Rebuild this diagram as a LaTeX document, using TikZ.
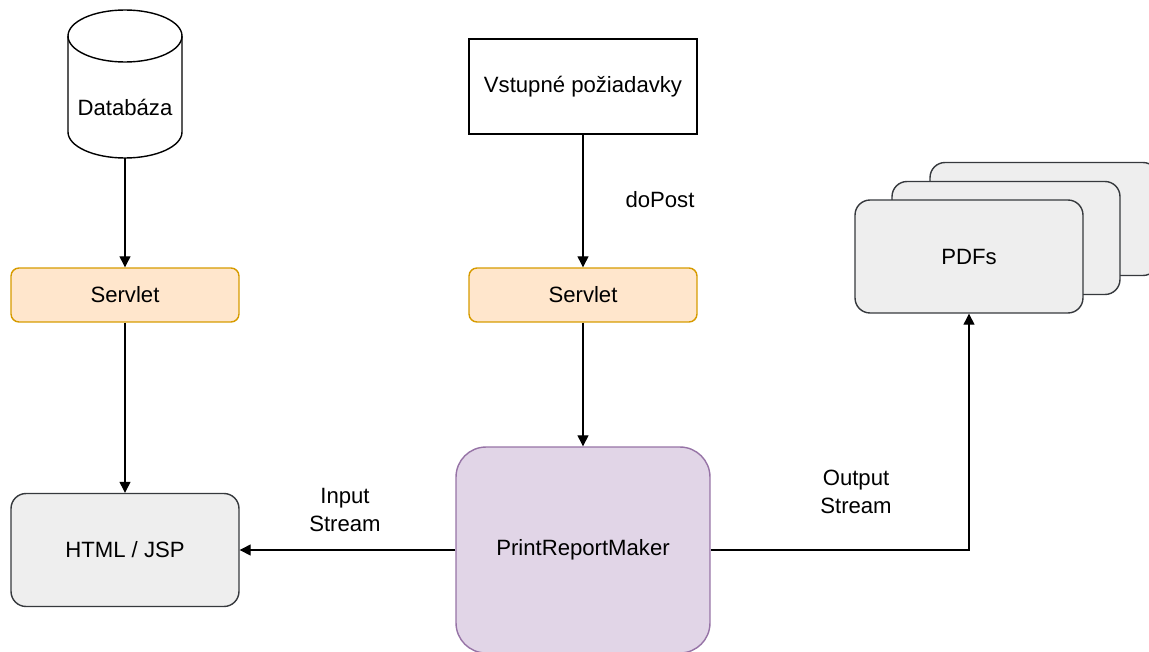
\documentclass[tikz,border=0pt]{standalone}
\usepackage{fontspec}
\setmainfont{Liberation Sans}
\usetikzlibrary{arrows.meta}
\definecolor{servletfill}{HTML}{FFE6CC}
\definecolor{servletline}{HTML}{D79B00}
\definecolor{greyfill}{HTML}{EEEEEE}
\definecolor{greyline}{HTML}{36393D}
\definecolor{makerfill}{HTML}{E1D5E7}
\definecolor{makerline}{HTML}{9673A6}
\tikzset{
  servletbox/.style={draw=servletline, fill=servletfill, rounded corners=0.16cm, minimum width=4.56cm, minimum height=1.08cm, line width=0.8pt},
  greybox/.style={draw=greyline, fill=greyfill, rounded corners=0.3cm, minimum width=4.56cm, minimum height=2.26cm, line width=0.8pt},
  flow/.style={-{Triangle[length=0.22cm,width=0.22cm]}, line width=0.7pt}
}
\begin{document}
\begin{tikzpicture}[x=0.02cm, y=-0.02cm, font=\fontsize{12.6}{16}\selectfont]
\useasboundingbox (0,0) rectangle (1149,652);
\draw[line width=0.8pt] (125,36) ellipse[x radius=57, y radius=26];
\draw[line width=0.8pt] (68,36) -- (68,132) arc[start angle=180, end angle=0, x radius=57, y radius=26] -- (182,36);
\node (db) at (125,107) {Databáza};
\coordinate (dbbot) at (125,158);
\node[servletbox] (servletA) at (125,295) {Servlet};
\node[greybox] (html) at (125,550) {HTML / JSP};
\node[draw, line width=0.8pt, minimum width=4.56cm, minimum height=1.9cm] (request) at (583,86.5) {Vstupné požiadavky};
\node[servletbox] (servletB) at (583,295) {Servlet};
\node[draw=makerline, fill=makerfill, rounded corners=0.6cm, minimum width=5.08cm, minimum height=4.12cm, line width=0.8pt] (maker) at (583,550) {PrintReportMaker};
\node[greybox] (pdfback) at (1044,219) {};
\node[greybox] (pdfmid) at (1006,238) {};
\node[greybox] (pdfs) at (969,256.5) {PDFs};
\node (dopost) at (660,200) {doPost};
\node[align=center] (instream) at (345,510) {Input\\Stream};
\node[align=center] (outstream) at (856,492) {Output\\Stream};
\draw[flow] (dbbot) -- (servletA);
\draw[flow] (servletA) -- (html);
\draw[flow] (request) -- (servletB);
\draw[flow] (servletB) -- (maker);
\draw[flow] (maker) -- (html);
\draw[flow] (maker.east) -| (pdfs.south);
\end{tikzpicture}
\end{document}
